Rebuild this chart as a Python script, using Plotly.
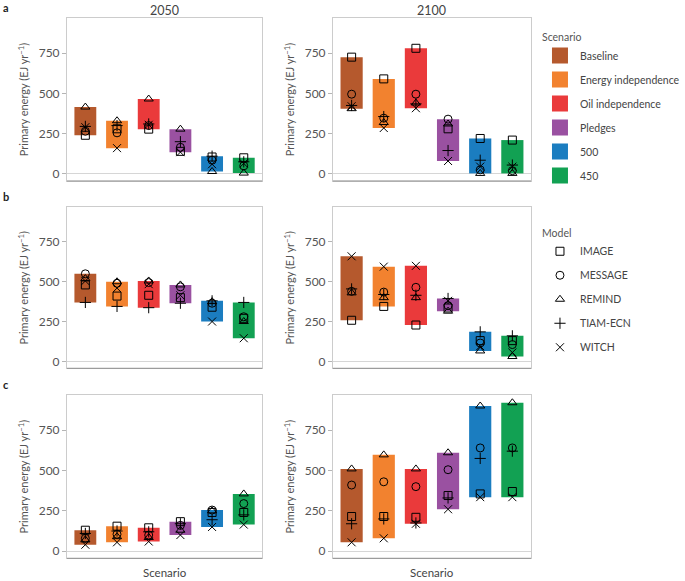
import plotly.graph_objects as go
from plotly.subplots import make_subplots

scenarios = ["Baseline", "Energy independence", "Oil independence", "Pledges", "500", "450"]
scenario_colors = ["#b5592d", "#f2822f", "#ea3a3b", "#9a51a1", "#1b7dc0", "#12a153"]

models = ["IMAGE", "MESSAGE", "REMIND", "TIAM-ECN", "WITCH"]
model_symbols = ["square-open", "circle-open", "triangle-up-open", "cross-thin-open", "x-thin-open"]

years = ["2050", "2100"]
row_letters = ["a", "b", "c"]

# primary energy (EJ/yr) per model, scenario order as above
a_2050 = {
    "IMAGE":    [240, 280, 278, 140, 105, 100],
    "MESSAGE":  [265, 255, 300, 165, 85, 50],
    "REMIND":   [415, 330, 465, 278, 15, 5],
    "TIAM-ECN": [295, 300, 310, 200, 110, 75],
    "WITCH":    [290, 160, 305, 135, 60, 65],
}
a_2100 = {
    "IMAGE":    [725, 590, 780, 280, 220, 210],
    "MESSAGE":  [495, 346, 495, 340, 25, 20],
    "REMIND":   [405, 319, 440, 310, 3, 3],
    "TIAM-ECN": [425, 356, 435, 145, 85, 55],
    "WITCH":    [420, 285, 408, 80, 45, 45],
}
b_2050 = {
    "IMAGE":    [480, 410, 415, 400, 340, 270],
    "MESSAGE":  [550, 490, 495, 468, 365, 280],
    "REMIND":   [520, 500, 505, 480, 375, 250],
    "TIAM-ECN": [370, 345, 337, 365, 380, 370],
    "WITCH":    [505, 460, 485, 415, 250, 145],
}
b_2100 = {
    "IMAGE":    [258, 345, 228, 335, 130, 130],
    "MESSAGE":  [440, 435, 465, 350, 115, 105],
    "REMIND":   [430, 400, 400, 315, 65, 30],
    "TIAM-ECN": [455, 420, 415, 395, 185, 160],
    "WITCH":    [660, 595, 600, 380, 95, 55],
}
c_2050 = {
    "IMAGE":    [130, 155, 145, 183, 240, 240],
    "MESSAGE":  [80, 105, 100, 160, 255, 295],
    "REMIND":   [70, 90, 85, 130, 250, 355],
    "TIAM-ECN": [110, 125, 120, 170, 195, 225],
    "WITCH":    [40, 55, 60, 100, 150, 165],
}
c_2100 = {
    "IMAGE":    [215, 215, 210, 345, 355, 370],
    "MESSAGE":  [410, 430, 400, 505, 640, 640],
    "REMIND":   [510, 597, 510, 610, 900, 920],
    "TIAM-ECN": [170, 200, 175, 330, 575, 620],
    "WITCH":    [55, 80, 170, 260, 335, 335],
}

panels = [[a_2050, a_2100], [b_2050, b_2100], [c_2050, c_2100]]

FONT = "Lato"
TXT = "#444444"

fig = make_subplots(rows=3, cols=2)

for r, row in enumerate(panels):
    for c, data in enumerate(row):
        first = (r == 0 and c == 0)
        for i, scen in enumerate(scenarios):
            vals = [data[m][i] for m in models]
            lo, hi = min(vals), max(vals)
            fig.add_trace(go.Bar(
                x=[scen], y=[hi - lo], base=[lo], width=0.69,
                marker=dict(color=scenario_colors[i], line=dict(width=0)),
                name=scen, legendgroup=scen, showlegend=False,
            ), row=r + 1, col=c + 1)
        for m, sym in zip(models, model_symbols):
            fig.add_trace(go.Scatter(
                x=scenarios, y=data[m], mode="markers",
                marker=dict(symbol=sym, size=8, color="black",
                            line=dict(width=1, color="black")),
                name=m, legendgroup=m, legend="legend2",
                showlegend=first,
            ), row=r + 1, col=c + 1)

# legend-only swatches for the scenarios (bigger than the bar legend icons)
for scen, col in zip(scenarios, scenario_colors):
    fig.add_trace(go.Scatter(
        x=[None], y=[None], mode="markers",
        marker=dict(symbol="square", size=16, color=col),
        name=scen, legendgroup=scen, legend="legend", showlegend=True,
    ), row=1, col=1)

# panel placement in paper fractions
x_domains = [[0.1007, 0.3942], [0.5007, 0.7985]]
y_domains = [[0.6885, 0.969], [0.3661, 0.6432], [0.0391, 0.3201]]

for r in range(3):
    for c in range(2):
        n = r * 2 + c + 1
        fig.update_xaxes(
            domain=x_domains[c], range=[-0.58, 5.58],
            showticklabels=False, ticks="", showgrid=False, zeroline=False,
            showline=True, mirror=True, linecolor="#cccccc", linewidth=1,
            row=r + 1, col=c + 1)
        fig.update_yaxes(
            domain=y_domains[r], range=[-44, 968],
            tickvals=[0, 250, 500, 750], ticks="outside", ticklen=4,
            tickcolor="#b5b5b5", tickfont=dict(size=12, color="#555555"),
            showgrid=False, zeroline=True, zerolinecolor="#d6d6d6", zerolinewidth=1,
            showline=True, mirror=True, linecolor="#cccccc", linewidth=1,
            title=dict(text="Primary energy (EJ yr<sup>\u22121</sup>)",
                       font=dict(size=11, color="#555555"), standoff=7),
            row=r + 1, col=c + 1)
        xr = "x" if n == 1 else "x%d" % n
        yr = "y" if n == 1 else "y%d" % n
        fig.add_shape(type="line", xref=xr + " domain", yref=yr + " domain",
                      x0=0, x1=1, y0=0, y1=0,
                      line=dict(color="#8f8f8f", width=1))

annotations = []
for c, yr in enumerate(years):
    xm = sum(x_domains[c]) / 2
    annotations.append(dict(text=yr, x=xm, y=0.982, xref="paper", yref="paper",
                            xanchor="center", yanchor="middle", showarrow=False,
                            font=dict(size=12.5, color=TXT)))
    annotations.append(dict(text="Scenario", x=xm, y=0.014, xref="paper", yref="paper",
                            xanchor="center", yanchor="middle", showarrow=False,
                            font=dict(size=11.5, color=TXT)))
for r, letter in enumerate(row_letters):
    annotations.append(dict(text="<b>%s</b>" % letter, x=0.002, y=y_domains[r][1] + 0.018,
                            xref="paper", yref="paper", xanchor="left", yanchor="middle",
                            showarrow=False, font=dict(size=11, color="#222222")))

fig.update_layout(
    width=685, height=581,
    margin=dict(l=0, r=0, t=0, b=0),
    barmode="overlay",
    plot_bgcolor="white", paper_bgcolor="white",
    font=dict(family=FONT, color=TXT),
    annotations=annotations,
    legend=dict(title=dict(text="Scenario", font=dict(size=10.5, color="#555555")),
                x=0.812, xanchor="left", y=0.953, yanchor="top",
                font=dict(size=10.5, color=TXT), traceorder="grouped",
                tracegroupgap=5, bgcolor="rgba(0,0,0,0)"),
    legend2=dict(title=dict(text="Model", font=dict(size=10.5, color="#555555")),
                 x=0.812, xanchor="left", y=0.616, yanchor="top",
                 font=dict(size=10.5, color=TXT), traceorder="grouped",
                 tracegroupgap=5, bgcolor="rgba(0,0,0,0)"),
)

# drop the default page margin so the figure sits at the window's corner
fig.write_html("out.html", config={"displayModeBar": False},
               post_script="document.body.style.margin='0';")
